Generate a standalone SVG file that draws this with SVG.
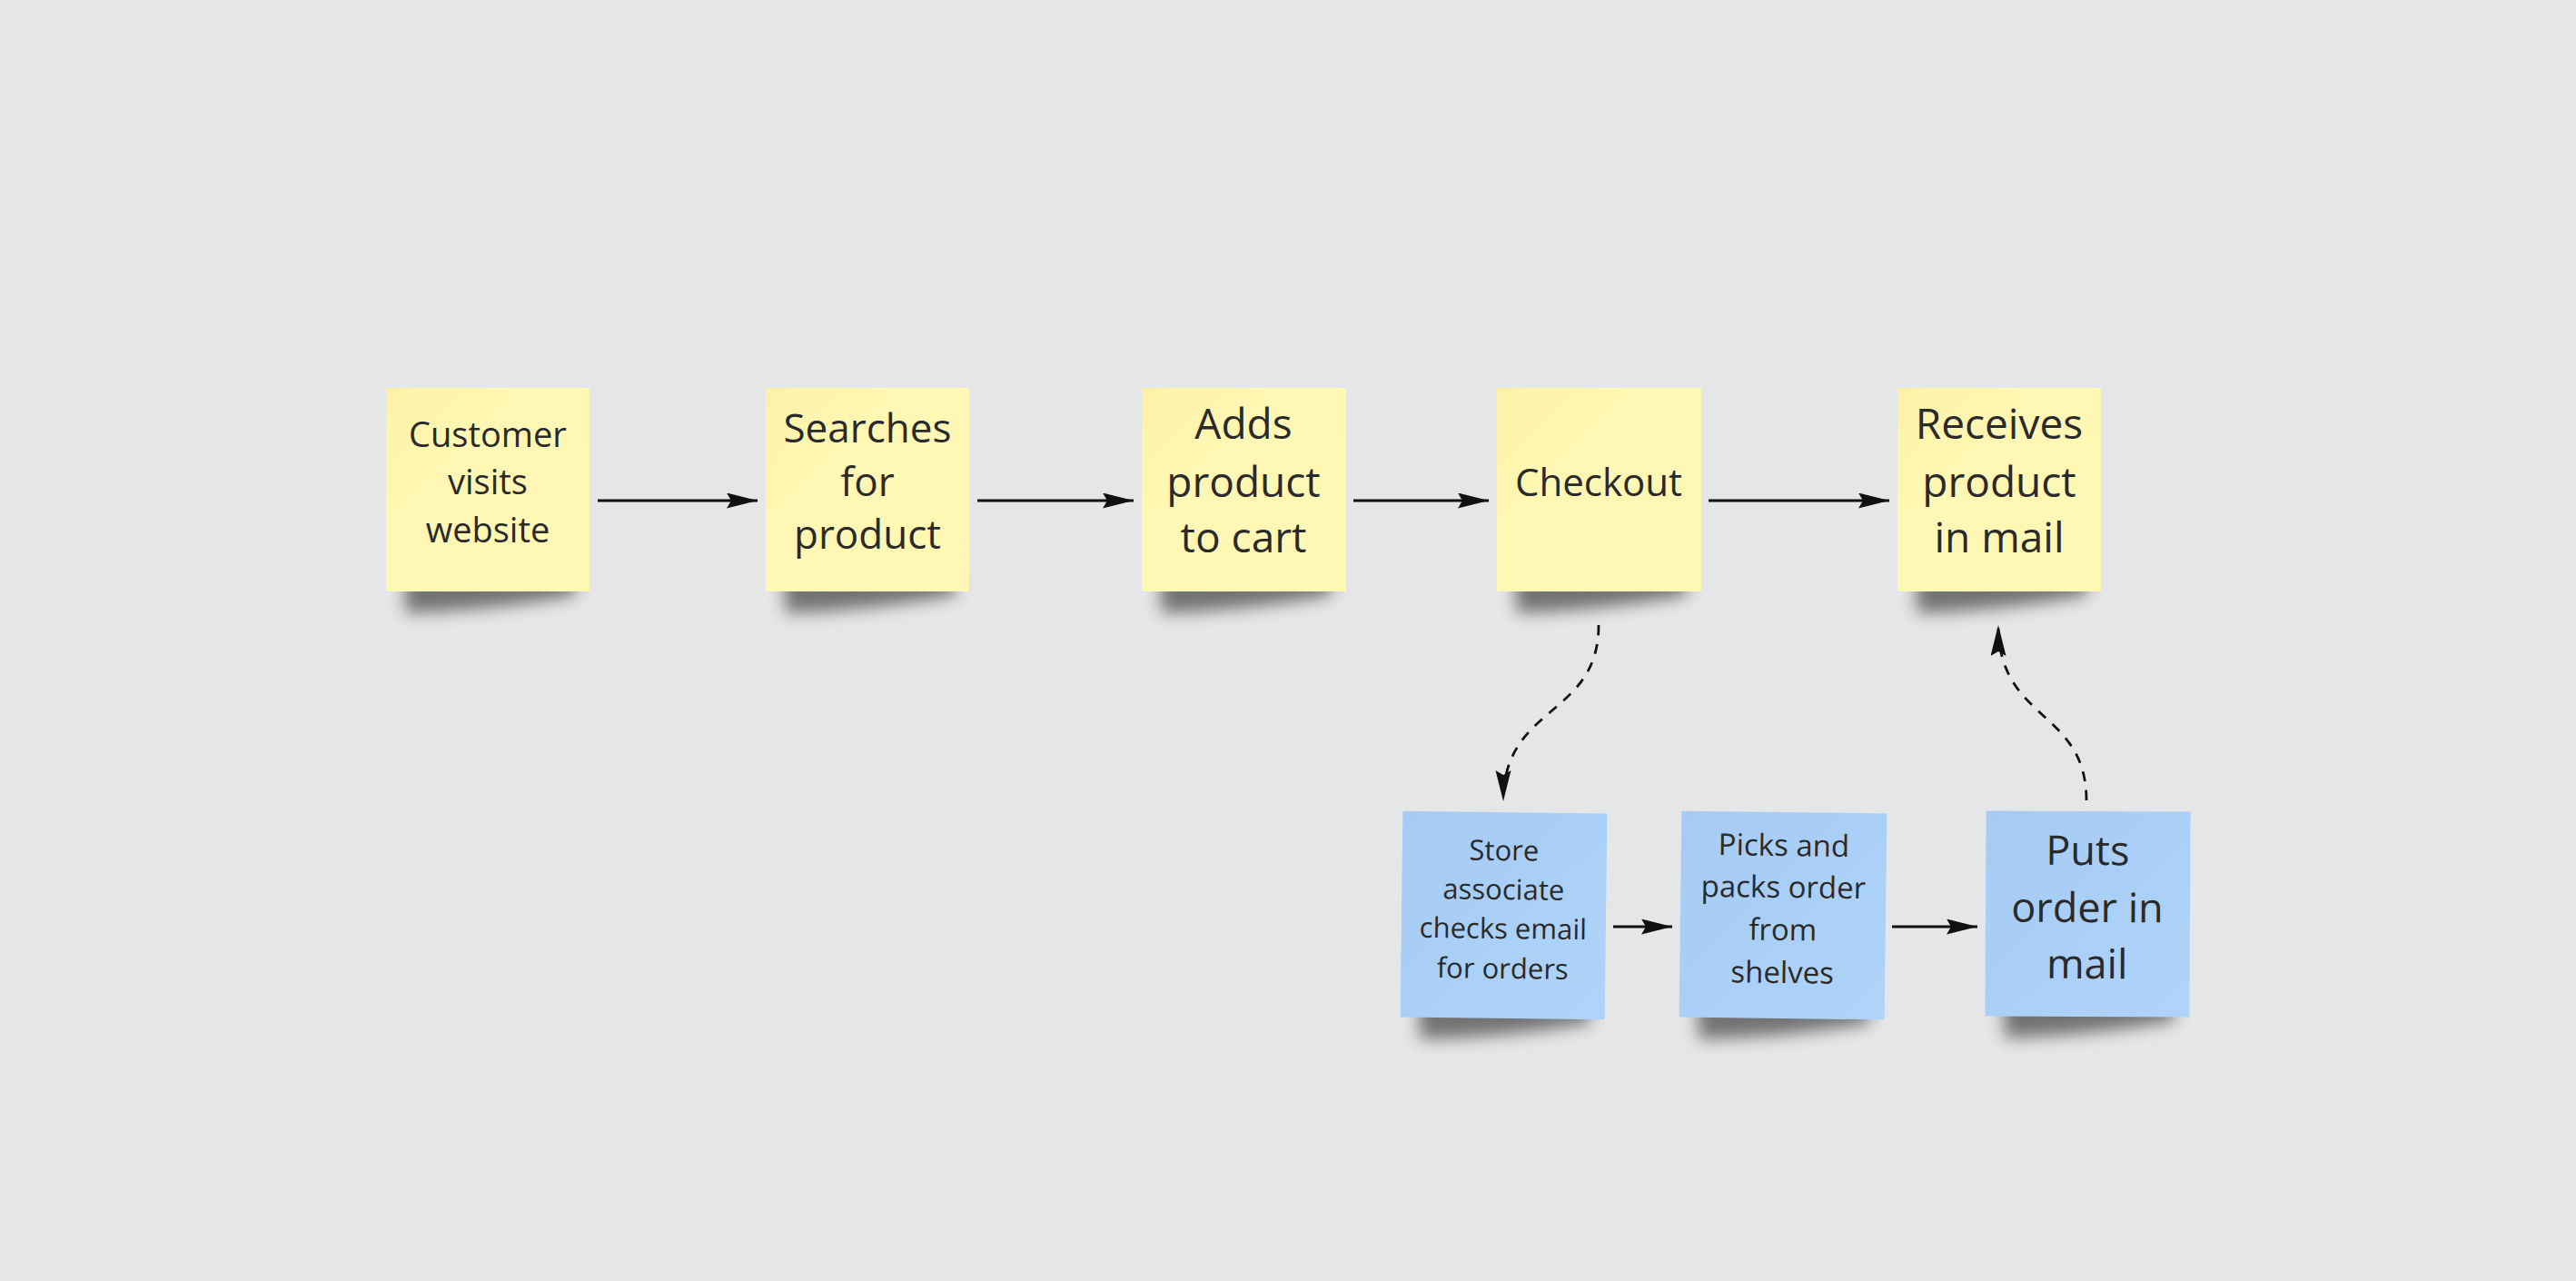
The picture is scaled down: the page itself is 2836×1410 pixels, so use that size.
<svg xmlns="http://www.w3.org/2000/svg" width="2836" height="1410" viewBox="0 0 2836 1410">
<style>
.txt{font-family:"Open Sans","Noto Sans","Liberation Sans",sans-serif;fill:#2a2a2a;text-anchor:middle}
.solid{fill:none;stroke:#111;stroke-width:2.8}
.dash{fill:none;stroke:#111;stroke-width:2.8;stroke-dasharray:11 10}
.shadow{fill:#000;opacity:0.5;filter:url(#blur)}
.yellow{fill:url(#gy)}
.blue{fill:url(#gb)}
</style>
<defs>
<linearGradient id="gy" x1="0" y1="0" x2="1" y2="1">
<stop offset="0" stop-color="#fbf1a9"/>
<stop offset="0.35" stop-color="#fff7b3"/>
<stop offset="1" stop-color="#fff8b4"/>
</linearGradient>
<linearGradient id="gb" x1="0" y1="0" x2="1" y2="1">
<stop offset="0" stop-color="#a5cbf5"/>
<stop offset="1" stop-color="#b0d4f8"/>
</linearGradient>
<filter id="blur" x="-20%" y="-80%" width="140%" height="300%">
<feGaussianBlur stdDeviation="9"/>
</filter>
<marker id="ah" markerUnits="userSpaceOnUse" markerWidth="36" markerHeight="18" refX="34" refY="8.5" orient="auto" viewBox="0 0 36 18">
<path d="M0,0 L34,8.5 L0,17 L5,8.5 Z" fill="#111"/>
</marker>
</defs>
<rect width="2836" height="1410" fill="#e5e6e8"/>

<g id="connectors">
<line class="solid" x1="658" y1="551" x2="834" y2="551" marker-end="url(#ah)"/>
<line class="solid" x1="1076" y1="551" x2="1248" y2="551" marker-end="url(#ah)"/>
<line class="solid" x1="1490" y1="551" x2="1639" y2="551" marker-end="url(#ah)"/>
<line class="solid" x1="1881" y1="551" x2="2080" y2="551" marker-end="url(#ah)"/>
<line class="solid" x1="1776" y1="1020" x2="1841" y2="1020" marker-end="url(#ah)"/>
<line class="solid" x1="2083" y1="1020" x2="2177" y2="1020" marker-end="url(#ah)"/>
<path class="dash" d="M1760,688 C1760,790 1655,775 1655,882" marker-end="url(#ah)"/>
<path class="dash" d="M2297,881 C2297,780 2200,795 2200,688" marker-end="url(#ah)"/>
</g>

<g id="node-customer">
<path class="shadow" d="M445,630 L632,630 L634,655 Q540,672 447,675 Z"/>
<rect class="yellow" x="425" y="427" width="224" height="224"/>
<text class="txt" font-size="38"><tspan x="537" y="492">Customer</tspan><tspan x="537" y="544">visits</tspan><tspan x="537" y="597">website</tspan></text>
</g>

<g id="node-searches">
<path class="shadow" d="M863,630 L1050,630 L1052,655 Q958,672 865,675 Z"/>
<rect class="yellow" x="843" y="427" width="224" height="224"/>
<text class="txt" font-size="44"><tspan x="955" y="487">Searches</tspan><tspan x="955" y="546">for</tspan><tspan x="955" y="604">product</tspan></text>
</g>

<g id="node-adds">
<path class="shadow" d="M1277,630 L1464,630 L1466,655 Q1372,672 1279,675 Z"/>
<rect class="yellow" x="1257" y="427" width="225" height="224"/>
<text class="txt" font-size="46"><tspan x="1369" y="483">Adds</tspan><tspan x="1369" y="547">product</tspan><tspan x="1369" y="608">to cart</tspan></text>
</g>

<g id="node-checkout">
<path class="shadow" d="M1668,630 L1855,630 L1857,655 Q1763,672 1670,675 Z"/>
<rect class="yellow" x="1648" y="427" width="225" height="224"/>
<text class="txt" font-size="42" x="1760" y="546">Checkout</text>
</g>

<g id="node-receives">
<path class="shadow" d="M2109,630 L2296,630 L2298,655 Q2204,672 2111,675 Z"/>
<rect class="yellow" x="2089" y="427" width="224" height="224"/>
<text class="txt" font-size="46"><tspan x="2201" y="483">Receives</tspan><tspan x="2201" y="547">product</tspan><tspan x="2201" y="608">in mail</tspan></text>
</g>

<g id="node-store" transform="rotate(0.7 1655 1007)">
<path class="shadow" d="M1563,1100 L1750,1100 L1752,1125 Q1658,1142 1565,1145 Z"/>
<rect class="blue" x="1543" y="894" width="225" height="227"/>
<text class="txt" font-size="31"><tspan x="1655" y="947">Store</tspan><tspan x="1655" y="990">associate</tspan><tspan x="1655" y="1033">checks email</tspan><tspan x="1655" y="1077">for orders</tspan></text>
</g>

<g id="node-picks" transform="rotate(0.7 1963 1007)">
<path class="shadow" d="M1870,1100 L2058,1100 L2060,1125 Q1966,1142 1872,1145 Z"/>
<rect class="blue" x="1850" y="894" width="226" height="227"/>
<text class="txt" font-size="33"><tspan x="1963" y="942">Picks and</tspan><tspan x="1963" y="988">packs order</tspan><tspan x="1963" y="1035">from</tspan><tspan x="1963" y="1082">shelves</tspan></text>
</g>

<g id="node-puts" transform="rotate(0.3 2298 1006)">
<path class="shadow" d="M2206,1098 L2393,1098 L2395,1123 Q2301,1140 2208,1143 Z"/>
<rect class="blue" x="2186" y="893" width="225" height="226"/>
<text class="txt" font-size="45"><tspan x="2298" y="952">Puts</tspan><tspan x="2298" y="1015">order in</tspan><tspan x="2298" y="1077">mail</tspan></text>
</g>
</svg>
